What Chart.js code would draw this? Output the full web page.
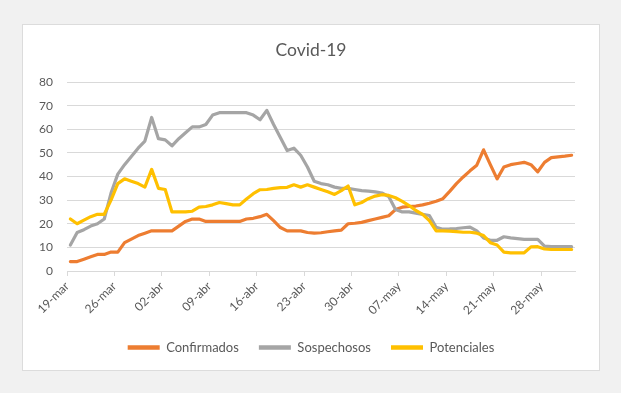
<!DOCTYPE html>
<html>
<head>
<meta charset="utf-8">
<script src="https://cdn.jsdelivr.net/npm/chart.js@4/dist/chart.umd.min.js"></script>
<style>
  html, body { margin: 0; padding: 0; background: #f1f1f1; }
  #box { position: absolute; left: 22px; top: 24px; width: 576px; height: 345px; background: #fff; border: 1px solid #dcdcdc; }
  canvas { display: block; }
</style>
</head>
<body>
<div id="box"><canvas id="chart" width="576" height="345"></canvas></div>
<script>
/* ── Data (one value per day, from 19-mar) ── */
const tickLabels = ["19-mar", "26-mar", "02-abr", "09-abr", "16-abr", "23-abr", "30-abr", "07-may", "14-may", "21-may", "28-may"];

const confirmados = [4, 4, 5, 6, 7, 7, 8, 8, 12, 13.5,
  15, 16, 17, 17, 17, 17, 19, 21, 22, 22,
  21, 21, 21, 21, 21, 21, 22, 22.3, 23, 24,
  21.3, 18.4, 17, 17, 17, 16.3, 16, 16.2, 16.6, 17,
  17.3, 20, 20.2, 20.6, 21.3, 22, 22.7, 23.4, 26, 27,
  27.3, 27.5, 28, 28.7, 29.5, 30.6, 33.7, 37, 39.8, 42.4,
  44.8, 51.3, 45, 39, 44, 45, 45.5, 46, 45, 42,
  46, 48, 48.3, 48.6, 49];

const sospechosos = [11, 16.3, 17.5, 19, 20, 22, 33, 41, 45, 48.5,
  52, 55, 65, 56, 55.5, 53, 56, 58.5, 61, 61,
  62, 66, 67, 67, 67, 67, 67, 66, 64, 68,
  62, 56.5, 51, 52, 49, 44, 38, 37, 36.5, 35.5,
  35, 35, 34.5, 34, 33.8, 33.5, 33, 31.5, 26, 25,
  25, 24.5, 24, 23.5, 18.5, 17.7, 17.8, 18, 18.3, 18.6,
  17, 14, 13, 13, 14.5, 14, 13.7, 13.4, 13.4, 13.4,
  10.5, 10.3, 10.3, 10.3, 10.3];

const potenciales = [22, 20, 21.5, 23, 24, 24, 30, 37, 39, 38,
  37, 35.5, 43, 35, 34.5, 25, 25, 25, 25.3, 27,
  27.3, 28, 29, 28.5, 28, 28, 30.5, 32.7, 34.4, 34.5,
  35, 35.3, 35.4, 36.5, 35.5, 36.5, 35.5, 34.5, 33.5, 32.4,
  34, 36, 28, 29, 30.6, 31.7, 32.3, 32, 31, 29.5,
  27.7, 25.6, 24, 21.3, 17, 17, 16.9, 16.7, 16.4, 16.4,
  16, 15, 12, 11, 8, 7.7, 7.7, 7.7, 10.2, 10.3,
  9.3, 9.1, 9.1, 9.1, 9.1];

/* ── Helpers ── */
const TXT = "#595959";
const GRID = "#d9d9d9";
const FONT = "Lato";
const tickDays = tickLabels.map((_, i) => i * 7);
const toPoints = arr => arr.map((y, i) => ({ x: i + 0.5, y }));

// title + legend centred on the whole box, not just the padded area
const centerBoxes = {
  id: "centerBoxes",
  afterLayout(chart) {
    [chart.titleBlock, chart.legend].forEach(b => {
      if (b) { b.left = 0; b.right = chart.width; b.width = chart.width; }
    });
  }
};

/* ── Chart ── */
new Chart(document.getElementById("chart"), {
  type: "line",
  data: {
    datasets: [
      { label: "Confirmados", data: toPoints(confirmados), borderColor: "#ED7D31", backgroundColor: "#ED7D31", order: 3 },
      { label: "Sospechosos", data: toPoints(sospechosos), borderColor: "#A5A5A5", backgroundColor: "#A5A5A5", order: 2 },
      { label: "Potenciales", data: toPoints(potenciales), borderColor: "#FFC000", backgroundColor: "#FFC000", order: 1 }
    ]
  },
  plugins: [centerBoxes],
  options: {
    responsive: false,
    animation: false,
    elements: {
      line: { borderWidth: 3.2, tension: 0, borderJoinStyle: "round", borderCapStyle: "round" },
      point: { radius: 0 }
    },
    layout: { padding: { left: 0, right: 24, top: 0, bottom: 6 } },
    plugins: {
      title: {
        display: true, text: "Covid-19", color: TXT,
        font: { family: FONT, size: 17.5, weight: "normal" },
        padding: { top: 15, bottom: 21 }
      },
      legend: {
        position: "bottom",
        labels: {
          usePointStyle: true, pointStyle: "line", pointStyleWidth: 32,
          color: TXT, font: { family: FONT, size: 13 }, padding: 20,
          sort: (a, b) => a.datasetIndex - b.datasetIndex,
          generateLabels: chart =>
            Chart.defaults.plugins.legend.labels.generateLabels(chart)
              .map(it => Object.assign(it, { lineWidth: 4.5 }))
        }
      },
      tooltip: { enabled: false }
    },
    scales: {
      x: {
        type: "linear", min: 0, max: 75,
        afterBuildTicks: s => { s.ticks = tickDays.map(v => ({ value: v })); },
        afterFit: s => { s.height = 50; },
        ticks: {
          autoSkip: false, maxRotation: 45, minRotation: 45, padding: 3,
          color: TXT, font: { family: FONT, size: 12 },
          callback: (v, i) => tickLabels[i]
        },
        grid: { drawOnChartArea: false, drawTicks: true, tickLength: 5, color: GRID },
        border: { color: GRID }
      },
      y: {
        min: 0, max: 80,
        afterFit: s => { s.width = 44; },
        ticks: { stepSize: 10, padding: 14, color: TXT, font: { family: FONT, size: 12 } },
        grid: { color: GRID, drawTicks: false },
        border: { display: false }
      }
    }
  }
});
</script>
</body>
</html>
